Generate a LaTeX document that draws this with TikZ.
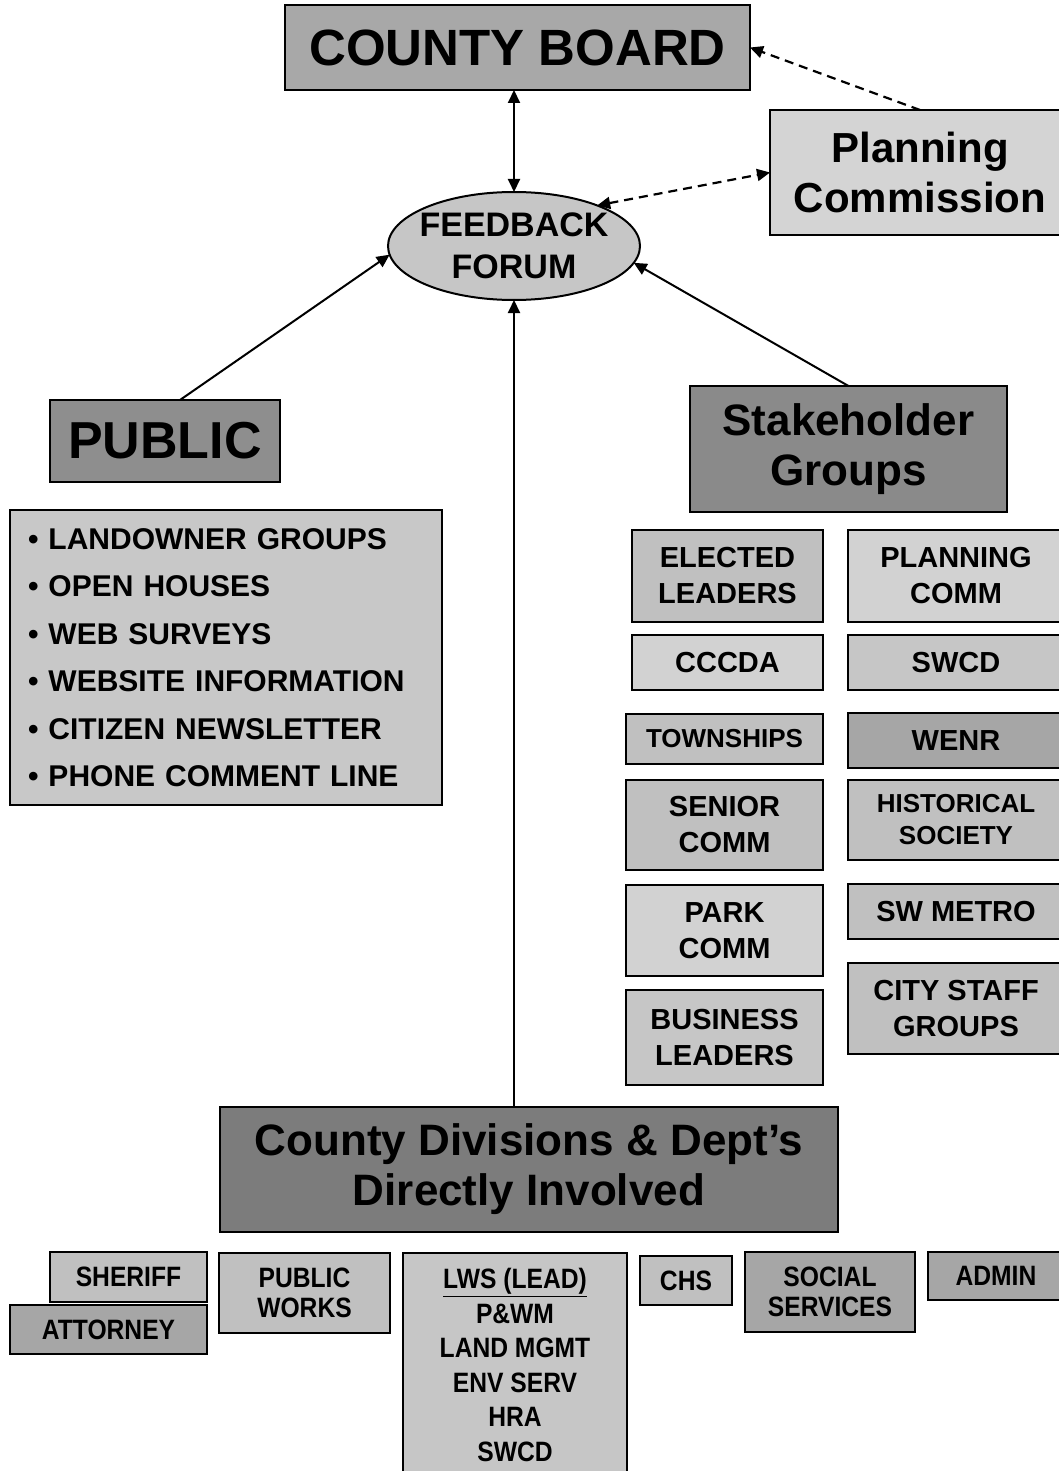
\documentclass[tikz,border=0pt]{standalone}
\usepackage{fontspec}
\setmainfont{Liberation Sans}
\newfontfamily\narrowfont{Liberation Sans}[FakeStretch=0.88]
\usetikzlibrary{arrows.meta,shapes.geometric}

\definecolor{boardgray}{HTML}{A8A8A8}
\definecolor{pcgray}{HTML}{D4D4D4}
\definecolor{forumgray}{HTML}{C6C6C6}
\definecolor{publicgray}{HTML}{8E8E8E}
\definecolor{listgray}{HTML}{C8C8C8}
\definecolor{stakegray}{HTML}{8A8A8A}
\definecolor{divgray}{HTML}{7C7C7C}
\definecolor{lightgray}{HTML}{D2D2D2}
\definecolor{midgray}{HTML}{C0C0C0}
\definecolor{darkgray}{HTML}{A6A6A6}

\tikzset{
  box/.style={draw, line width=2.4pt, rectangle, inner sep=0pt, outer sep=0pt, align=center},
  groupbox/.style={box, font={\fontsize{29}{36}\selectfont\bfseries}},
  smallgroup/.style={box, font={\fontsize{26}{32}\selectfont\bfseries}},
  deptbox/.style={box, font={\narrowfont\fontsize{28}{30}\selectfont\bfseries}},
  tip/.tip={Triangle[length=13pt,width=12pt]},
  link/.style={line width=2pt, -tip},
  twoway/.style={line width=2pt, tip-tip},
  dashlink/.style={line width=2.2pt, dash pattern=on 9pt off 6pt}
}

\begin{document}
\begin{tikzpicture}[x=1pt,y=-1pt]

  \useasboundingbox[fill=white] (0,0) rectangle (1059,1471);

  % top of the chart
  \node (board) [box, fill=boardgray, minimum width=465pt, minimum height=85pt,
    font={\fontsize{51}{60}\selectfont\bfseries}] at (517.5,47.5) {COUNTY BOARD};
  \node (pc) [box, fill=pcgray, minimum width=300pt, minimum height=125pt,
    font={\fontsize{42}{50}\selectfont\bfseries}] at (920,172.5) {Planning\\Commission};
  \node (forum) [draw, line width=2pt, ellipse, fill=forumgray, inner sep=-6pt, outer sep=0pt,
    minimum width=252pt, minimum height=108pt, align=center,
    font={\fontsize{34}{42}\selectfont\bfseries}] at (514,246) {FEEDBACK\\FORUM};

  \draw[twoway] (board.south -| forum.north) -- (forum.north);
  \draw[dashlink, -tip] (pc.north) -- (board.east);
  \draw[dashlink, tip-tip] (forum.26) -- (pc.west);

  % public side
  \node (public) [box, fill=publicgray, minimum width=230pt, minimum height=82pt,
    font={\fontsize{52}{60}\selectfont\bfseries}] at (165,441) {PUBLIC};
  \node (outreach) [box, fill=listgray, minimum width=432pt, minimum height=295pt,
    text width=396pt, align=left, font={\fontsize{30}{47.5}\selectfont\bfseries}] at (226,657.5)
    {• LANDOWNER GROUPS\\• OPEN HOUSES\\• WEB SURVEYS\\• WEBSITE INFORMATION\\• CITIZEN NEWSLETTER\\• PHONE COMMENT LINE};

  \draw[link] ([xshift=15pt]public.north) -- (forum.184);

  % stakeholder side
  \node (stake) [box, fill=stakegray, minimum width=317pt, minimum height=126pt,
    font={\fontsize{44}{50}\selectfont\bfseries}] at (848.5,449) {Stakeholder\\Groups};

  \draw[link] (stake.north) -- (forum.-8);

  \node (elected) [groupbox, fill=midgray, minimum width=191pt, minimum height=92pt] at (727.5,576) {ELECTED\\LEADERS};
  \node (cccda) [groupbox, fill=lightgray, minimum width=191pt, minimum height=55pt] at (727.5,662.5) {CCCDA};
  \node (townships) [smallgroup, fill=midgray, minimum width=197pt, minimum height=50pt] at (724.5,739) {TOWNSHIPS};
  \node (senior) [groupbox, fill=midgray, minimum width=197pt, minimum height=90pt] at (724.5,825) {SENIOR\\COMM};
  \node (park) [groupbox, fill=lightgray, minimum width=197pt, minimum height=91pt] at (724.5,930.5) {PARK\\COMM};
  \node (business) [groupbox, fill=forumgray, minimum width=197pt, minimum height=95pt] at (724.5,1037.5) {BUSINESS\\LEADERS};

  \node (planning) [groupbox, fill=lightgray, minimum width=216pt, minimum height=92pt] at (956,576) {PLANNING\\COMM};
  \node (swcd) [groupbox, fill=forumgray, minimum width=216pt, minimum height=55pt] at (956,662.5) {SWCD};
  \node (wenr) [groupbox, fill=darkgray, minimum width=216pt, minimum height=55pt] at (956,740.5) {WENR};
  \node (historical) [smallgroup, fill=midgray, minimum width=216pt, minimum height=80pt] at (956,820) {HISTORICAL\\SOCIETY};
  \node (swmetro) [groupbox, fill=midgray, minimum width=216pt, minimum height=55pt] at (956,911.5) {SW METRO};
  \node (citystaff) [groupbox, fill=midgray, minimum width=216pt, minimum height=91pt] at (956,1008.5) {CITY STAFF\\GROUPS};

  % county side
  \node (divisions) [box, fill=divgray, minimum width=618pt, minimum height=125pt,
    font={\fontsize{44}{50}\selectfont\bfseries}] at (529,1169.5) {County Divisions \& Dept’s\\Directly Involved};

  \draw[link] (divisions.north -| forum.south) -- (forum.south);

  \node (sheriff) [deptbox, fill=midgray, minimum width=157pt, minimum height=50pt] at (128.5,1277) {SHERIFF};
  \node (attorney) [deptbox, fill=darkgray, minimum width=197pt, minimum height=49pt] at (108.5,1329.5) {ATTORNEY};
  \node (works) [deptbox, fill=midgray, minimum width=171pt, minimum height=80pt] at (304.5,1293) {PUBLIC\\WORKS};
  \node (lws) [deptbox, fill=forumgray, minimum width=224pt, minimum height=224pt,
    font={\narrowfont\fontsize{28}{34.5}\selectfont\bfseries}] at (515,1365)
    {\underline{LWS (LEAD)}\\P\&WM\\LAND MGMT\\ENV SERV\\HRA\\SWCD};
  \node (chs) [deptbox, fill=midgray, minimum width=92pt, minimum height=49pt] at (686,1280.5) {CHS};
  \node (social) [deptbox, fill=darkgray, minimum width=170pt, minimum height=80pt] at (830,1292) {SOCIAL\\SERVICES};
  \node (admin) [deptbox, fill=darkgray, minimum width=136pt, minimum height=48pt] at (996,1276) {ADMIN};

\end{tikzpicture}
\end{document}
